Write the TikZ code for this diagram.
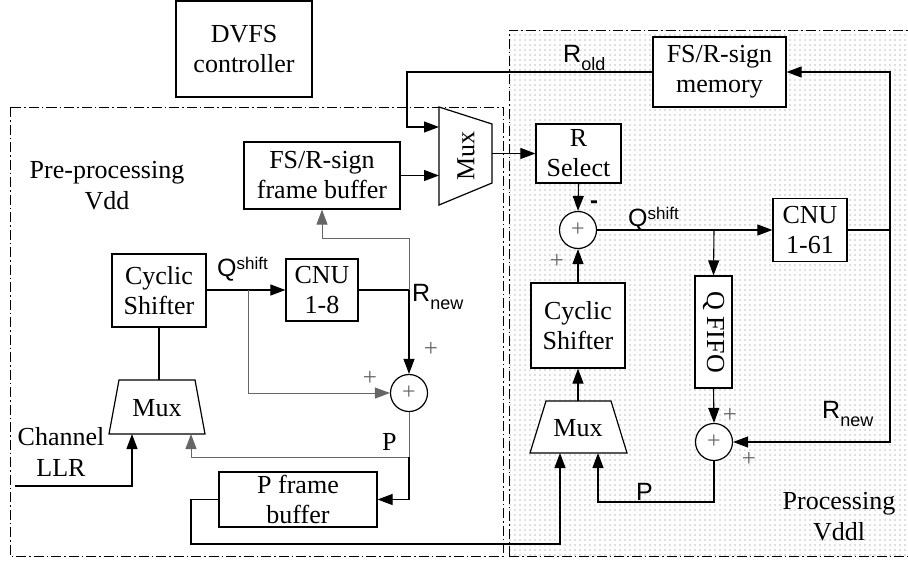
\documentclass[tikz,border=0pt]{standalone}
\usepackage{fontspec}
\setmainfont{Liberation Serif}
\setsansfont{Liberation Sans}
\usetikzlibrary{arrows.meta,patterns.meta,calc}
\newcommand\lowtxt[2]{{\fontsize{18}{18}\selectfont\raisebox{-#1}{#2}}}
\newcommand\hightxt[2]{{\fontsize{17}{17}\selectfont\raisebox{#1}{#2}}}
\begin{document}
\begin{tikzpicture}[x=1pt,y=-1pt,
  box/.style={draw, line width=1.2pt, fill=white, align=center, inner sep=0pt, font=\fontsize{26}{30}\selectfont},
  txt/.style={align=center, inner sep=0pt, font=\fontsize{26}{31}\selectfont},
  ln/.style={line width=1.1pt},
  gln/.style={line width=1pt, draw=black!60},
  arr/.style={-{Triangle[length=15pt,width=11pt]}},
  lbl/.style={font=\sffamily\fontsize{25}{25}\selectfont, inner sep=0pt, anchor=base west},
  pm/.style={text=black!60, font=\fontsize{25}{25}\selectfont, inner sep=0pt},
  sumc/.style={circle, draw, line width=1.2pt, fill=white, minimum size=37pt, inner sep=0pt, text=black!60, font=\fontsize{24}{24}\selectfont},
  region/.style={line width=1pt, dash pattern=on 10pt off 3pt on 1.5pt off 3pt},
  muxs/.style={draw, line width=1.2pt, fill=white}
]
\useasboundingbox (0,0) rectangle (908,560);

% regions
\fill[pattern={Dots[distance=5pt,radius=0.65pt]}, pattern color=black!55] (509,30) rectangle (908,556);
\draw[region] (509,556) -- (509,30) -- (908,30);
\draw[region] (509,556) -- (908,556);
\draw[region] (10,107) rectangle (503,556);

% boxes
\node[box, minimum width=136pt, minimum height=96pt] (dvfs) at (244,49) {DVFS\\controller};
\node[box, minimum width=156pt, minimum height=67pt] (fsbuf) at (322,175.5) {FS/R-sign\\frame buffer};
\node[box, minimum width=94pt, minimum height=73pt] (lcs) at (159,290.5) {Cyclic\\Shifter};
\node[box, minimum width=72pt, minimum height=62pt] (cnu8) at (322,290) {CNU\\1-8};
\node[box, minimum width=158pt, minimum height=55pt] (pbuf) at (298,499.5) {P frame\\buffer};
\node[box, minimum width=133pt, minimum height=70pt] (mem) at (719.5,72) {FS/R-sign\\memory};
\node[box, minimum width=85pt, minimum height=59pt] (rsel) at (578.5,153.5) {R\\Select};
\node[box, minimum width=74pt, minimum height=63pt] (cnu61) at (810,230) {CNU\\1-61};
\node[box, minimum width=94pt, minimum height=85pt] (rcs) at (578,325.5) {Cyclic\\Shifter};
\node[box, minimum width=37pt, minimum height=112pt] (qfifo) at (713.5,332) {};
\node[txt, rotate=-90] (qfifot) at (713.5,332) {Q FIFO};

\node[sumc] (sum1) at (409,393) {+};
\node[sumc] (sum2) at (578,230) {+};
\node[sumc] (sum3) at (714,442) {+};

% muxes
\draw[muxs] (119,380) -- (195,380) -- (205,434) -- (109,434) -- cycle;
\node[txt] (lmux) at (157,408) {Mux};
\draw[muxs] (439,107) -- (492,124) -- (492,183) -- (439,205) -- cycle;
\node[txt, rotate=90] (tmux) at (466,156) {Mux};
\draw[muxs] (546,401) -- (611,401) -- (627,453) -- (530,453) -- cycle;
\node[txt] (rmux) at (578,428) {Mux};

\coordinate (lmuxT) at (159,380);
\coordinate (lmuxIn1) at (132,434);
\coordinate (lmuxIn2) at (191,434);
\coordinate (tmuxIn1) at (439,127);
\coordinate (tmuxIn2) at (439,175.5);
\coordinate (tmuxOut) at (492,153.5);
\coordinate (rmuxT) at (578,401);
\coordinate (rmuxIn1) at (560,453);
\coordinate (rmuxIn2) at (598,453);
\coordinate (chin) at (15,486);
\coordinate (rj) at (890,230);
\coordinate (qj) at (714,230);
\coordinate (lqj) at (248,290);
\coordinate (lrj) at (409,290);
\coordinate (lpj) at (409,457);

% connectors: processing side
\draw[ln,arr] (mem.west) -- (407,72) -- (407,127) -- (tmuxIn1);
\draw[ln,arr] (fsbuf.east) -- (tmuxIn2);
\draw[ln,arr] (tmuxOut) -- (rsel.west |- tmuxOut);
\draw[ln,arr] (rsel.south) -- (sum2.north);
\draw[ln,arr] (sum2.east) -- (cnu61.west);
\draw[ln,arr] (qj) -- (qfifo.north);
\draw[ln] (cnu61.east) -- (rj);
\draw[ln,arr] (rj) |- (mem.east);
\draw[ln,arr] (rj) |- (sum3.east);
\draw[ln,arr] (qfifo.south) -- (sum3.north);
\draw[ln,arr] (sum3.south) -- (714,502) -| (rmuxIn2);
\draw[ln,arr] (rmuxT) -- (rcs.south);
\draw[ln,arr] (rcs.north) -- (sum2.south);

% connectors: pre-processing side
\draw[ln,arr] (lcs.east |- cnu8.west) -- (cnu8.west);
\draw[ln] (lcs.south) -- (lmuxT);
\draw[ln] (cnu8.east) -- (lrj);
\draw[ln,arr] (lrj) -- (sum1.north);
\draw[gln,arr] (lqj) |- (sum1.west);
\draw[gln,arr] (lrj) -- (409,238) -| (fsbuf.south);
\draw[gln] (sum1.south) -- (lpj);
\draw[gln,arr] (lpj) -| (lmuxIn2);
\draw[ln,arr] (lpj) |- (pbuf.east);
\draw[ln,arr] (pbuf.west) -- (191,499.5) -- (191,544) -| (rmuxIn1);
\draw[ln,arr] (chin) -| (lmuxIn1);

% labels
\node[txt] (pretxt) at (107,186) {Pre-processing\\Vdd};
\node[txt] (protxt) at (839,517) {Processing\\Vddl};
\node[txt] (chtxt) at (61,452) {Channel\\LLR};
\node[lbl] (rold) at (563,62) {R\lowtxt{8pt}{old}};
\node[lbl] (qs1) at (217,276) {Q\hightxt{7pt}{shift}};
\node[lbl] (qs2) at (628,226) {Q\hightxt{7pt}{shift}};
\node[lbl] (rn1) at (412,301) {R\lowtxt{8pt}{new}};
\node[lbl] (rn2) at (822,418) {R\lowtxt{8pt}{new}};
\node[txt, anchor=base west] (p1) at (382,450) {P};
\node[lbl] (p2) at (636,500) {P};
\node[font=\sffamily\bfseries\fontsize{24}{24}\selectfont, inner sep=0pt] (minus) at (594,205) {-};
\node[pm] (pl1) at (431,349) {+};
\node[pm] (pl2) at (370,378) {+};
\node[pm] (pl3) at (557,261) {+};
\node[pm] (pl4) at (730,415) {+};
\node[pm] (pl5) at (749,459) {+};
\end{tikzpicture}
\end{document}
